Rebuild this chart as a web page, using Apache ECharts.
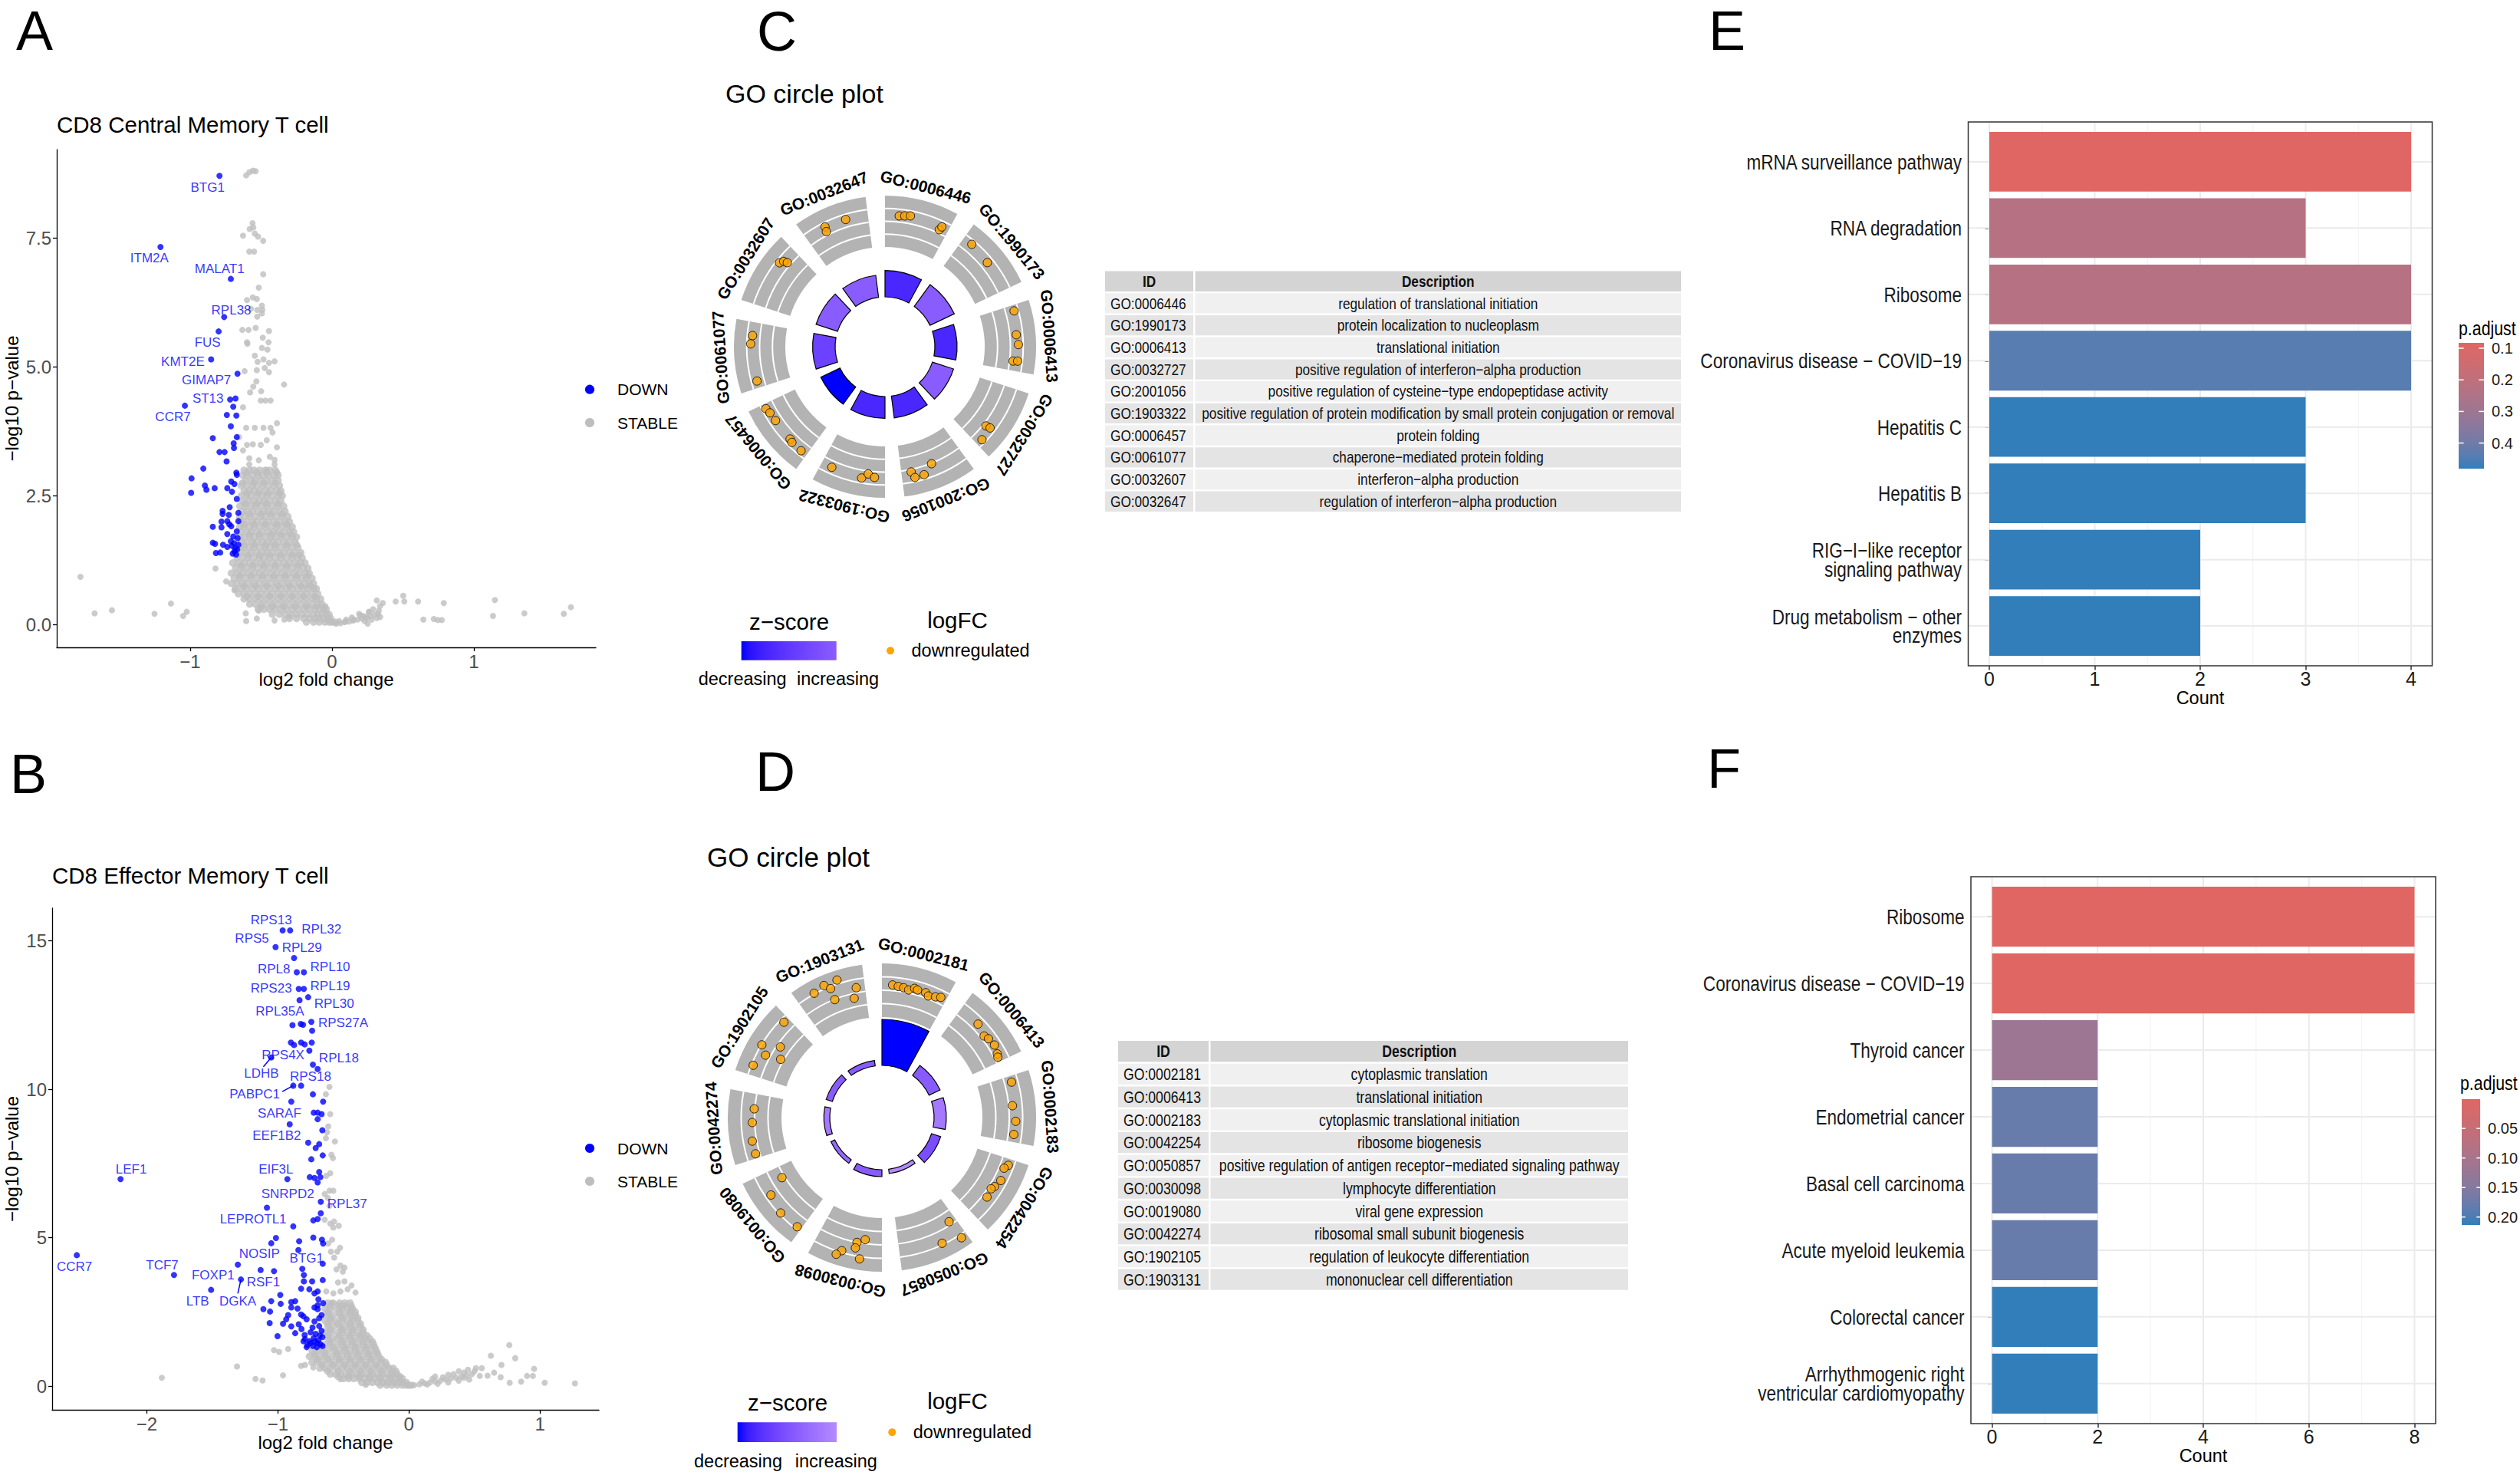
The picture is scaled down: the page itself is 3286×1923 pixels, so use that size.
<!DOCTYPE html>
<html><head><meta charset="utf-8">
<script src="https://cdn.jsdelivr.net/npm/echarts@6/dist/echarts.min.js"></script>
<style>html,body{margin:0;padding:0;background:#fff;}#c{width:3286px;height:1923px;}</style>
</head><body><div id="c"></div>
<script>
// ---------------- DATA ----------------
// Panel A volcano (CD8 Central Memory T cell)
const aDown = [[-0.793,8.71],[-1.209,7.33],[-0.713,6.71],[-0.760,5.97],[-0.799,5.69],[-0.852,5.15],[-0.666,4.87],[-0.718,4.37],[-0.680,4.39],[-1.037,4.25],[-0.696,4.23],[-0.741,4.07],[-0.674,4.06],[-0.713,3.85],[-0.840,3.62],[-0.671,3.64],[-0.693,3.52],[-0.691,3.43],[-0.793,3.35],[-0.757,3.35],[-0.743,3.17],[-0.907,3.03],[-0.674,2.95],[-0.671,2.91],[-0.990,2.84],[-0.710,2.78],[-0.688,2.73],[-0.896,2.70],[-0.885,2.62],[-0.827,2.65],[-0.738,2.65],[-0.705,2.58],[-0.993,2.56],[-0.671,2.44],[-0.721,2.28],[-0.771,2.21],[-0.771,2.15],[-0.660,2.17],[-0.727,2.13],[-0.660,2.01],[-0.779,2.0],[-0.738,2.01],[-0.724,1.95],[-0.840,1.90],[-0.779,1.89],[-0.710,1.91],[-0.671,1.81],[-0.738,1.76],[-0.696,1.71],[-0.713,1.62],[-0.840,1.59],[-0.824,1.57],[-0.768,1.55],[-0.738,1.51],[-0.705,1.53],[-0.682,1.48],[-0.818,1.39],[-0.788,1.40],[-0.688,1.42],[-0.668,1.46],[-0.700,1.38],[-0.675,1.36],[-0.660,1.55],[-0.690,1.58],[-0.665,1.68]];
const aStableScatter = [[-0.605,8.72],[-0.582,8.78],[-0.558,8.81],[-0.538,8.80],[-0.560,7.79],[-0.555,7.71],[-0.580,7.68],[-0.627,7.55],[-0.544,7.59],[-0.521,7.53],[-0.485,7.45],[-0.583,7.24],[-0.549,7.24],[-0.485,6.80],[-0.516,6.54],[-0.599,6.30],[-0.558,6.35],[-0.530,6.32],[-0.494,6.19],[-0.527,6.11],[-0.491,6.11],[-0.571,6.13],[-0.527,5.98],[-0.494,6.04],[-0.632,5.72],[-0.588,5.72],[-0.538,5.76],[-0.444,5.70],[-0.599,5.48],[-0.596,5.45],[-0.488,5.57],[-0.447,5.48],[-0.494,5.37],[-0.455,5.34],[-0.544,5.22],[-0.444,5.08],[-0.405,5.11],[-0.524,5.10],[-0.483,5.15],[-0.616,4.92],[-0.530,4.94],[-0.474,4.98],[-0.444,4.90],[-0.533,4.72],[-0.338,4.66],[-0.555,4.62],[-0.577,4.51],[-0.499,4.53],[-0.502,4.35],[-0.469,4.35],[-0.433,4.35],[-0.627,4.22],[-0.605,3.82],[-0.544,3.82],[-0.483,3.82],[-0.433,3.82],[-0.388,3.91],[-0.419,3.73],[-0.655,3.64],[-0.460,3.58],[-0.502,3.49],[-0.558,3.50],[-0.599,3.49],[-0.388,3.44],[-0.627,3.38],[-0.583,3.23],[-0.516,3.19],[-0.438,3.26],[-0.405,3.20],[-0.583,3.11],[-0.460,3.00],[-0.405,3.11],
[-1.773,0.93],[-1.673,0.22],[-1.551,0.28],[-1.251,0.21],[-1.135,0.41],[-1.049,0.17],[-1.024,0.25],[-0.821,1.09],[-0.746,0.84],[-0.688,0.67],[-0.605,0.07],[-0.608,0.22],[-0.530,0.12],[-0.516,0.27],[-0.405,0.08],[-0.336,0.10],[-0.300,0.16],
[0.316,0.47],[0.338,0.36],[0.358,0.42],[0.449,0.45],[0.502,0.56],[0.510,0.45],[0.607,0.45],[0.644,0.10],[0.718,0.11],[0.746,0.09],[0.774,0.09],[0.788,0.42],[1.135,0.17],[1.148,0.48],[1.356,0.22],[1.634,0.21],[1.684,0.34],[0.316,0.13],[0.252,0.02],[0.325,0.21],[0.261,0.25],[0.219,0.17],[0.150,0.10],[0.094,0.06],[0.247,0.13],[0.191,0.21],
[0.03,0.02],[0.06,0.03],[0.09,0.05],[0.12,0.06],[0.15,0.08],[0.18,0.10],[0.21,0.12],[0.24,0.15],[0.27,0.17],[0.30,0.20],[0.05,0.07],[0.10,0.10],[0.14,0.14],[0.20,0.18],[0.26,0.24],[0.33,0.27],[0.29,0.30],[0.23,0.07],[0.28,0.10],[0.34,0.15]];
// dense cloud of stable genes, read row by row: [-log10 p, [log2FC ...]]
const aStableRows = [
[3.0,[-0.62,-0.58,-0.55,-0.51,-0.47,-0.44,-0.40]],
[2.95,[-0.60,-0.53,-0.46,-0.39]],
[2.9,[-0.63,-0.60,-0.56,-0.52,-0.49,-0.45,-0.41,-0.38]],
[2.8,[-0.61,-0.57,-0.54,-0.50,-0.46,-0.42,-0.38]],
[2.75,[-0.63,-0.55,-0.48,-0.40]],
[2.7,[-0.64,-0.60,-0.56,-0.53,-0.49,-0.45,-0.41,-0.37]],
[2.6,[-0.62,-0.58,-0.55,-0.51,-0.47,-0.43,-0.39,-0.36]],
[2.55,[-0.60,-0.52,-0.45,-0.37]],
[2.5,[-0.64,-0.60,-0.57,-0.53,-0.49,-0.46,-0.42,-0.38,-0.35]],
[2.4,[-0.63,-0.59,-0.55,-0.51,-0.48,-0.44,-0.40,-0.36]],
[2.35,[-0.61,-0.53,-0.46,-0.38]],
[2.3,[-0.65,-0.61,-0.57,-0.54,-0.50,-0.46,-0.42,-0.38,-0.34]],
[2.2,[-0.63,-0.60,-0.56,-0.52,-0.48,-0.45,-0.41,-0.37,-0.33]],
[2.15,[-0.58,-0.50,-0.43,-0.35]],
[2.1,[-0.65,-0.62,-0.58,-0.54,-0.50,-0.47,-0.43,-0.39,-0.35,-0.31]],
[2.0,[-0.64,-0.60,-0.56,-0.53,-0.49,-0.45,-0.41,-0.37,-0.33,-0.30]],
[1.95,[-0.62,-0.55,-0.47,-0.39,-0.32]],
[1.9,[-0.65,-0.62,-0.58,-0.55,-0.51,-0.47,-0.43,-0.39,-0.35,-0.31,-0.28]],
[1.8,[-0.64,-0.60,-0.57,-0.53,-0.49,-0.45,-0.41,-0.38,-0.34,-0.30,-0.27]],
[1.75,[-0.58,-0.51,-0.43,-0.36,-0.29]],
[1.7,[-0.65,-0.62,-0.58,-0.55,-0.51,-0.47,-0.43,-0.40,-0.36,-0.32,-0.28,-0.25]],
[1.6,[-0.64,-0.60,-0.56,-0.53,-0.49,-0.45,-0.42,-0.38,-0.34,-0.30,-0.26]],
[1.55,[-0.62,-0.55,-0.47,-0.40,-0.32,-0.25]],
[1.5,[-0.65,-0.62,-0.58,-0.55,-0.51,-0.47,-0.44,-0.40,-0.36,-0.32,-0.28,-0.24]],
[1.4,[-0.65,-0.61,-0.57,-0.53,-0.49,-0.46,-0.42,-0.38,-0.34,-0.30,-0.26,-0.22]],
[1.35,[-0.59,-0.51,-0.44,-0.36,-0.28,-0.23]],
[1.3,[-0.67,-0.63,-0.59,-0.55,-0.51,-0.48,-0.44,-0.40,-0.36,-0.32,-0.28,-0.24,-0.21]],
[1.2,[-0.70,-0.66,-0.62,-0.58,-0.54,-0.50,-0.46,-0.42,-0.38,-0.34,-0.30,-0.26,-0.22,-0.19]],
[1.15,[-0.64,-0.56,-0.48,-0.40,-0.32,-0.24]],
[1.1,[-0.68,-0.64,-0.60,-0.56,-0.52,-0.48,-0.44,-0.40,-0.36,-0.32,-0.28,-0.24,-0.20,-0.17]],
[1.0,[-0.71,-0.67,-0.63,-0.59,-0.55,-0.51,-0.47,-0.43,-0.39,-0.35,-0.31,-0.27,-0.23,-0.19,-0.16]],
[0.95,[-0.65,-0.57,-0.49,-0.41,-0.33,-0.25,-0.17]],
[0.9,[-0.69,-0.65,-0.61,-0.57,-0.53,-0.49,-0.45,-0.41,-0.37,-0.33,-0.29,-0.25,-0.21,-0.18,-0.14]],
[0.8,[-0.71,-0.67,-0.63,-0.59,-0.55,-0.51,-0.47,-0.43,-0.39,-0.35,-0.31,-0.27,-0.23,-0.19,-0.16,-0.13]],
[0.75,[-0.62,-0.54,-0.46,-0.38,-0.30,-0.22,-0.15]],
[0.7,[-0.68,-0.64,-0.60,-0.56,-0.52,-0.48,-0.44,-0.40,-0.36,-0.32,-0.28,-0.24,-0.20,-0.17,-0.13,-0.11]],
[0.6,[-0.66,-0.62,-0.58,-0.54,-0.50,-0.46,-0.42,-0.38,-0.34,-0.30,-0.26,-0.22,-0.18,-0.14,-0.10]],
[0.55,[-0.60,-0.52,-0.44,-0.36,-0.28,-0.20,-0.12]],
[0.5,[-0.62,-0.58,-0.54,-0.50,-0.46,-0.42,-0.38,-0.34,-0.30,-0.26,-0.22,-0.18,-0.14,-0.11,-0.08]],
[0.4,[-0.58,-0.54,-0.50,-0.46,-0.42,-0.38,-0.34,-0.30,-0.26,-0.22,-0.18,-0.14,-0.10,-0.07]],
[0.35,[-0.50,-0.42,-0.34,-0.26,-0.18,-0.11,-0.05]],
[0.3,[-0.52,-0.48,-0.44,-0.40,-0.36,-0.32,-0.28,-0.24,-0.20,-0.16,-0.12,-0.09,-0.06,-0.04]],
[0.2,[-0.42,-0.37,-0.33,-0.29,-0.25,-0.21,-0.17,-0.13,-0.10,-0.07,-0.04,-0.02]],
[0.12,[-0.30,-0.25,-0.20,-0.16,-0.12,-0.09,-0.06,-0.03,-0.01]],
[0.05,[-0.18,-0.13,-0.09,-0.05,-0.02,0.0,0.02]]];
const aLabels = [['BTG1',-0.877,8.49],['ITM2A',-1.287,7.11],['MALAT1',-0.793,6.90],['RPL38',-0.710,6.10],['FUS',-0.877,5.47],['KMT2E',-1.051,5.11],['GIMAP7',-0.885,4.75],['ST13',-0.874,4.39],['CCR7',-1.121,4.04]];
const aXTicks = [-1,0,1];
const aYTicks = [0,2.5,5,7.5];

// Panel B volcano (CD8 Effector Memory T cell)
const bDown = [[-0.964,15.35],[-0.907,15.35],[-1.018,14.79],[-0.877,14.42],[-0.856,13.94],[-0.802,13.94],[-0.841,13.38],[-0.802,13.38],[-0.769,13.10],[-0.835,13.00],[-0.745,12.27],[-0.889,12.16],[-0.826,12.20],[-0.808,12.17],[-0.739,11.97],[-0.901,11.57],[-0.877,11.49],[-0.823,11.57],[-0.796,11.51],[-0.742,11.57],[-0.760,11.30],[-1.051,11.07],[-0.733,10.83],[-0.697,10.68],[-0.823,10.12],[-0.883,10.12],[-0.733,9.83],[-0.898,9.58],[-0.655,9.58],[-0.727,9.21],[-0.697,9.21],[-0.667,9.16],[-0.697,8.99],[-0.910,8.82],[-0.661,8.62],[-0.769,8.20],[-0.685,8.15],[-0.712,8.02],[-0.658,7.77],[-0.745,7.64],[-0.685,7.21],[-0.928,6.97],[-0.757,7.04],[-0.721,7.01],[-0.676,7.04],[-0.697,6.86],[-2.201,6.97],[-0.673,6.21],[-1.084,6.01],[-0.673,5.82],[-0.730,5.58],[-0.697,5.63],[-0.883,5.38],[-1.015,4.99],[-1.051,4.81],[-0.730,5.00],[-0.664,4.93],[-0.655,4.80],[-0.838,4.88],[-0.844,4.58],[-2.535,4.41],[-1.306,4.09],[-0.658,4.12],[-0.814,3.95],[-1.132,3.91],[-1.030,3.87],[-1.793,3.74],[-0.802,3.74],[-1.282,3.59],[-0.802,3.53],[-0.739,3.53],[-0.658,3.57],[-0.823,3.28],[-0.760,3.26],[-1.510,3.24],[-0.697,3.19],[-0.721,3.12],[-0.982,3.07],[-0.898,2.83],[-0.868,2.86],[-1.051,2.86],[-0.979,2.77],[-0.691,2.92],[-0.697,2.72],[-0.655,2.79],[-1.111,2.59],[-1.060,2.51],[-0.898,2.65],[-0.850,2.61],[-0.721,2.65],[-0.697,2.59],[-0.823,2.41],[-0.805,2.35],[-0.667,2.39],[-0.922,2.39],[-0.937,2.25],[-0.961,2.10],[-1.063,2.12],[-0.898,2.01],[-0.841,2.08],[-0.781,2.25],[-0.721,2.18],[-0.685,2.29],[-0.868,1.78],[-0.820,1.92],[-0.736,1.97],[-0.685,2.02],[-1.003,1.68],[-0.796,1.72],[-0.751,1.81],[-0.712,1.76],[-0.667,1.86],[-0.793,1.58],[-0.760,1.51],[-0.727,1.62],[-0.691,1.54],[-0.661,1.65],[-0.775,1.38],[-0.733,1.35],[-0.703,1.31],[-0.676,1.41],[-0.751,1.45],[-0.805,1.51],[-0.781,1.31],[-0.700,1.45],[-0.660,1.35],[-0.720,1.50],[-0.680,1.70]];
const bStableScatter = [[-0.607,10.08],[-0.634,9.83],[-0.601,9.16],[-0.616,8.75],[-0.625,8.55],[-0.634,8.35],[-0.565,8.24],[-0.592,7.79],[-0.580,7.68],[-0.601,7.17],[-0.631,7.08],[-0.607,6.58],[-0.577,6.58],[-0.643,6.47],[-0.619,6.34],[-0.607,6.07],[-0.643,5.60],[-0.601,5.47],[-0.571,5.54],[-0.535,5.40],[-0.577,5.34],[-0.586,4.93],[-0.616,4.80],[-0.595,4.53],[-0.547,4.53],[-0.571,4.33],[-0.526,4.66],[-0.553,3.93],[-0.492,3.99],[-0.505,3.86],[-0.523,4.06],[-0.541,3.49],[-0.492,3.53],[-0.438,3.39],[-0.408,3.15],[-0.468,3.26],[-0.631,3.19],[-0.577,3.12],[-0.523,3.19],[-0.586,2.79],[-0.541,2.72],[-0.492,2.72],[-0.447,2.59],[-1.030,1.21],[-0.991,1.15],[-0.922,1.25],[-1.312,0.66],[-1.886,0.28],[-1.171,0.24],[-1.117,0.19],[-0.961,0.36],[-0.823,0.68],[-0.793,0.71],[-0.730,0.63],[-0.523,0.23],[-0.330,0.04],
[0.766,1.38],[0.811,0.94],[0.706,0.71],[0.625,1.02],[0.556,0.60],[0.511,0.60],[0.541,0.34],[0.769,0.11],[0.856,0.15],[0.901,0.34],[0.946,0.34],[0.955,0.58],[1.036,0.11],[1.267,0.09],[0.60,0.35],[0.65,0.45],[0.70,0.30],
[0.04,0.03],[0.08,0.06],[0.12,0.09],[0.16,0.12],[0.20,0.15],[0.24,0.18],[0.28,0.22],[0.32,0.25],[0.36,0.28],[0.40,0.32],[0.44,0.36],[0.48,0.40],[0.10,0.15],[0.18,0.25],[0.26,0.30],[0.34,0.40],[0.42,0.45],[0.50,0.50],[0.14,0.05],[0.22,0.08],[0.30,0.12],[0.38,0.18],[0.46,0.22],[0.20,0.32],[0.30,0.38],[0.38,0.50],[0.45,0.55],[0.42,0.28]];
const bStableRows = [
[2.8,[-0.62,-0.58,-0.53,-0.49,-0.45]],
[2.7,[-0.60,-0.51,-0.44]],
[2.6,[-0.64,-0.60,-0.55,-0.51,-0.47,-0.43]],
[2.5,[-0.62,-0.53,-0.45,-0.41]],
[2.4,[-0.62,-0.58,-0.53,-0.49,-0.45,-0.41]],
[2.3,[-0.60,-0.51,-0.43,-0.39]],
[2.2,[-0.64,-0.60,-0.56,-0.51,-0.47,-0.43,-0.39]],
[2.1,[-0.62,-0.54,-0.45,-0.37]],
[2.0,[-0.62,-0.58,-0.53,-0.49,-0.45,-0.41,-0.37]],
[1.9,[-0.60,-0.51,-0.43,-0.35]],
[1.8,[-0.64,-0.60,-0.55,-0.51,-0.47,-0.43,-0.39,-0.35]],
[1.7,[-0.62,-0.53,-0.45,-0.37,-0.32]],
[1.6,[-0.62,-0.58,-0.54,-0.49,-0.45,-0.41,-0.37,-0.33,-0.30]],
[1.5,[-0.60,-0.51,-0.43,-0.35,-0.28]],
[1.4,[-0.64,-0.60,-0.55,-0.51,-0.47,-0.43,-0.39,-0.35,-0.31,-0.27]],
[1.3,[-0.66,-0.58,-0.49,-0.41,-0.33,-0.26]],
[1.2,[-0.74,-0.70,-0.66,-0.62,-0.57,-0.53,-0.49,-0.45,-0.41,-0.37,-0.33,-0.29,-0.25]],
[1.1,[-0.72,-0.64,-0.55,-0.47,-0.39,-0.31,-0.24]],
[1.0,[-0.76,-0.72,-0.68,-0.64,-0.59,-0.55,-0.51,-0.47,-0.43,-0.39,-0.35,-0.31,-0.27,-0.23]],
[0.9,[-0.70,-0.62,-0.53,-0.45,-0.37,-0.29,-0.21]],
[0.8,[-0.74,-0.70,-0.66,-0.61,-0.57,-0.53,-0.49,-0.45,-0.41,-0.37,-0.33,-0.29,-0.25,-0.21,-0.18]],
[0.7,[-0.66,-0.58,-0.49,-0.41,-0.33,-0.25,-0.17]],
[0.6,[-0.68,-0.64,-0.60,-0.55,-0.51,-0.47,-0.43,-0.39,-0.35,-0.31,-0.27,-0.23,-0.19,-0.15,-0.12]],
[0.5,[-0.62,-0.54,-0.45,-0.37,-0.29,-0.21,-0.13,-0.10]],
[0.4,[-0.60,-0.56,-0.52,-0.48,-0.44,-0.40,-0.36,-0.32,-0.28,-0.24,-0.20,-0.16,-0.12,-0.09]],
[0.32,[-0.54,-0.46,-0.38,-0.30,-0.22,-0.14,-0.07]],
[0.25,[-0.50,-0.46,-0.42,-0.38,-0.34,-0.30,-0.26,-0.22,-0.18,-0.14,-0.10,-0.07,-0.05]],
[0.12,[-0.36,-0.32,-0.28,-0.24,-0.20,-0.16,-0.12,-0.08,-0.05,-0.02]],
[0.03,[-0.22,-0.17,-0.13,-0.09,-0.05,-0.02,0.0,0.02]]];
const bLabels = [['RPS13',-1.051,15.70],['RPL32',-0.667,15.38],['RPS5',-1.198,15.08],['RPL29',-0.817,14.76],['RPL8',-1.030,14.05],['RPL10',-0.601,14.13],['RPS23',-1.051,13.40],['RPL19',-0.601,13.49],['RPL30',-0.571,12.87],['RPL35A',-0.985,12.63],['RPS27A',-0.502,12.24],['RPS4X',-0.961,11.14],['RPL18',-0.535,11.06],['LDHB',-1.126,10.52],['RPS18',-0.751,10.42],['PABPC1',-1.177,9.83],['SARAF',-0.988,9.20],['EEF1B2',-1.009,8.43],['EIF3L',-1.015,7.31],['LEF1',-2.120,7.31],['SNRPD2',-0.925,6.47],['RPL37',-0.471,6.15],['LEPROTL1',-1.189,5.62],['NOSIP',-1.141,4.45],['BTG1',-0.781,4.30],['CCR7',-2.553,4.03],['TCF7',-1.883,4.06],['FOXP1',-1.495,3.73],['RSF1',-1.111,3.50],['LTB',-1.613,2.86],['DGKA',-1.306,2.86]];
const bLeaders = [[[-1.111,10.76],[-1.051,11.07]],[[-0.967,9.92],[-0.883,10.12]],[[-1.306,3.12],[-1.282,3.59]]];
const bXTicks = [-2,-1,0,1];
const bYTicks = [0,5,10,15];

// Panel C GO circle
const goC = ['GO:0006446','GO:1990173','GO:0006413','GO:0032727','GO:2001056','GO:1903322','GO:0006457','GO:0061077','GO:0032607','GO:0032647'];
const descC = ['regulation of translational initiation','protein localization to nucleoplasm','translational initiation','positive regulation of interferon\u2212alpha production','positive regulation of cysteine\u2212type endopeptidase activity','positive regulation of protein modification by small protein conjugation or removal','protein folding','chaperone\u2212mediated protein folding','interferon\u2212alpha production','regulation of interferon\u2212alpha production'];
const zC = [-2.24,-1.73,-2.24,-1.73,-2.24,-2.24,-2.45,-2.0,-1.73,-1.73];
const barC = [99.4,100,94,94,93.7,93.3,92.7,94.4,94.5,93.8];   // inner bar outer radius
const dotsC = [
[[171.5,6.2],[172.4,8.6],[173.7,11.0],[168.1,24.9],[172.9,25.4]],
[[175,40.3],[172.7,50.6]],
[[174.7,74.5],[171.9,84.8],[174,89.1],[168,96.4],[174,96.2]],
[[167.4,128.1],[173.2,127.7],[175.2,133.8]],
[[164.2,158.3],[166.8,168.2],[174.9,167.1],[174.5,163.0]],
[[171.8,203.8],[173.9,190.1],[167.3,187.5],[171,184.6]],
[[175.1,242.5],[173,240.1],[172.2,236.0],[172.6,225.8],[174.1,224.2],[174.3,218.9]],
[[173.3,274.8],[175.2,271.2],[172.8,255.0]],
[[175.7,308.5],[172.7,310.1],[168,310.7]],
[[174.7,333.4],[168.4,333.0],[173.6,342.8]]];

// Panel D GO circle
const goD = ['GO:0002181','GO:0006413','GO:0002183','GO:0042254','GO:0050857','GO:0030098','GO:0019080','GO:0042274','GO:1902105','GO:1903131'];
const descD = ['cytoplasmic translation','translational initiation','cytoplasmic translational initiation','ribosome biogenesis','positive regulation of antigen receptor\u2212mediated signaling pathway','lymphocyte differentiation','viral gene expression','ribosomal small subunit biogenesis','regulation of leukocyte differentiation','mononuclear cell differentiation'];
const zD = [-3.46,-2.45,-2.0,-2.65,-1.73,-2.45,-2.24,-2.0,-2.45,-2.45];
const barD = [128,84,84,80.6,73.6,77,73.7,75.7,76.5,75];
const dotsD = [
[[173.4,4.6],[172.3,7.1],[171.6,9.5],[170,11.8],[173.8,14.2],[172.7,15.6],[172.5,19.3],[169.7,20.9],[172.1,23.9],[174.5,26.1]],
[[174.8,45.8],[170.5,51.4],[172.8,53.5],[174.6,57.2],[171.8,61.1],[170.4,62.5]],
[[175.2,74.7],[170.9,84.8],[174.5,91.6],[173.4,97.3]],
[[176.1,110.7],[172.4,112.5],[175.4,117.9],[172.2,121.5],[170,123.1],[171.8,127.1]],
[[161.6,147.2],[187.9,146.5],[181.7,154.4]],
[[160.7,187.8],[166,191.3],[173.4,191.5],[181.3,196.8],[187.9,198.5],[186.6,189.0]],
[[152.1,239.0],[176.5,235.1],[181.4,226.7],[180.2,217.8]],
[[166.9,273.9],[169.2,267.8],[171.8,259.7],[171.4,254.0]],
[[178.3,314.2],[183,301.2],[161.3,304.8],[172.2,298.2],[152.3,299.9],[181.2,292.1]],
[[184.6,331.4],[188,336.3],[181,338.3],[188.6,341.9],[165.6,338.2],[172.5,348.8],[159.7,346.9]]];

// Panel E KEGG bar
const catsE = ['mRNA surveillance pathway','RNA degradation','Ribosome','Coronavirus disease \u2212 COVID\u221219','Hepatitis C','Hepatitis B','RIG\u2212I\u2212like receptor\nsignaling pathway','Drug metabolism \u2212 other\nenzymes'];
const countE = [4,3,4,4,3,3,2,2];
const padjE = [0.083,0.226,0.226,0.44,0.481,0.481,0.481,0.481];
const eXTicks = [0,1,2,3,4];
const eCbTicks = [0.1,0.2,0.3,0.4];

// Panel F KEGG bar
const catsF = ['Ribosome','Coronavirus disease \u2212 COVID\u221219','Thyroid cancer','Endometrial cancer','Basal cell carcinoma','Acute myeloid leukemia','Colorectal cancer','Arrhythmogenic right\nventricular cardiomyopathy'];
const countF = [8,8,2,2,2,2,2,2];
const padjF = [0.0004,0.0004,0.118,0.178,0.178,0.178,0.2134,0.2134];
const fXTicks = [0,2,4,6,8];
const fCbTicks = [0.05,0.10,0.15,0.20];

// ---------------- HELPERS ----------------
const FONT = "'Liberation Sans', Arial, Helvetica, sans-serif";
const NARROW_SX = 0.82;   // horizontal condensing to imitate Arial Narrow
const minus = s => String(s).replace('-', '\u2212');
function hex2rgb(h){h=h.replace('#','');return [0,2,4].map(i=>parseInt(h.substr(i,2),16));}
function s2l(c){c/=255;return c<=0.04045?c/12.92:Math.pow((c+0.055)/1.055,2.4);}
function l2s(c){c=c<=0.0031308?12.92*c:1.055*Math.pow(c,1/2.4)-0.055;return Math.max(0,Math.min(255,Math.round(c*255)));}
function rgb2lab(rgb){const [r,g,b]=rgb.map(s2l);
  const X=(r*0.4124+g*0.3576+b*0.1805)/0.95047, Y=r*0.2126+g*0.7152+b*0.0722, Z=(r*0.0193+g*0.1192+b*0.9505)/1.08883;
  const f=t=>t>0.008856?Math.cbrt(t):7.787*t+16/116; const fx=f(X),fy=f(Y),fz=f(Z);
  return [116*fy-16,500*(fx-fy),200*(fy-fz)];}
function lab2rgb(L,a,b){const fy=(L+16)/116,fx=fy+a/500,fz=fy-b/200;const fi=t=>t>0.206893?t*t*t:(t-16/116)/7.787;
  const X=fi(fx)*0.95047,Y=fi(fy),Z=fi(fz)*1.08883;
  const r=3.2406*X-1.5372*Y-0.4986*Z,g=-0.9689*X+1.8758*Y+0.0415*Z,bb=0.0557*X-0.2040*Y+1.0570*Z;
  return 'rgb('+[r,g,bb].map(l2s).join(',')+')';}
function mixLab(c1,c2,t){const A=rgb2lab(hex2rgb(c1)),B=rgb2lab(hex2rgb(c2));return lab2rgb(A[0]+(B[0]-A[0])*t,A[1]+(B[1]-A[1])*t,A[2]+(B[2]-A[2])*t);}
const zColor = (z, zs) => { const m = Math.max(...zs.map(Math.abs)); return mixLab('#0000ff','#ffffff',1-Math.abs(z)/m); };
const pColor = (p, ps) => { const lo=Math.min(...ps), hi=Math.max(...ps); return mixLab('#e06663','#327eba',(p-lo)/(hi-lo)); };
const rowsToPts = rows => rows.flatMap(([y,xs])=>xs.map(x=>[x,y]));

// ---------------- LAYOUT ----------------
const SPAN = 28.6;
const circ = [
  {pi:0, ids:goC, z:zC, bar:barC, dots:dotsC, r0:65, g0:130, g1:197, lines:[146.75,163.5,180.25], lab:215},
  {pi:1, ids:goD, z:zD, bar:barD, dots:dotsD, r0:68, g0:131, g1:201, lines:[148.5,166,183.5], lab:220}];

function volcAxes(gi, range, xt, yr, yt, yfmt, gapY, gapX){
  const lab = {color:'#4D4D4D', fontSize:24, fontFamily:FONT};
  const tick = {show:true, length:5, lineStyle:{color:'#000', width:1.3}};
  const line = {show:true, onZero:false, lineStyle:{color:'#000', width:1.3}};
  return [{type:'value', gridIndex:gi, min:range[0], max:range[1], axisLine:line,
      axisTick:Object.assign({customValues:xt}, tick),
      axisLabel:Object.assign({customValues:xt, formatter:v=>minus(v), margin:6}, lab),
      splitLine:{show:false}, name:'log2 fold change', nameLocation:'middle', nameGap:gapX, nameMoveOverlap:false,
      nameTextStyle:{fontSize:24, color:'#000', fontFamily:FONT}},
    {type:'value', gridIndex:gi, min:yr[0], max:yr[1], axisLine:line,
      axisTick:Object.assign({customValues:yt}, tick),
      axisLabel:Object.assign({customValues:yt, formatter:yfmt, margin:7}, lab),
      splitLine:{show:false}, name:'\u2212log10 p\u2212value', nameLocation:'middle', nameGap:gapY, nameMoveOverlap:false,
      nameTextStyle:{fontSize:24, color:'#000', fontFamily:FONT}}];
}
const vA = volcAxes(0,[-1.94,1.86],aXTicks,[-0.44,9.22],aYTicks,v=>v.toFixed(1),47,29);
const vB = volcAxes(1,[-2.723,1.45],bXTicks,[-0.80,16.1],bYTicks,v=>String(v),41,30);

function barAxes(gi, cats, xr, xt, pad){
  return [{type:'value', gridIndex:gi, min:xr[0], max:xr[1], offset:pad,
      axisLine:{show:false}, axisTick:{show:true, customValues:xt, length:5.5, lineStyle:{color:'#333', width:1.5}},
      axisLabel:{customValues:xt, color:'#1a1a1a', fontSize:25, fontFamily:FONT, margin:5},
      splitLine:{show:false}, name:'Count', nameLocation:'middle', nameGap:30, nameMoveOverlap:false,
      nameTextStyle:{fontSize:23.5, color:'#000', fontFamily:FONT}},
    {type:'category', gridIndex:gi, data:cats, inverse:true, axisLine:{show:false},
      axisTick:{show:true, alignWithLabel:true, length:5.5, lineStyle:{color:'#333', width:1.5}},
      axisLabel:{show:false}, splitLine:{show:false}}];
}
const padE = 86.46*0.1, padF = 86.95*0.1;
const bE = barAxes(2, catsE, [-0.2,4.2], eXTicks, padE);
const bF = barAxes(3, catsF, [-0.4,8.4], fXTicks, padF);

function cbAxes(gi, ps, ticks, fmt){
  return [{type:'value', gridIndex:gi, min:0, max:1, show:false},
    {type:'value', gridIndex:gi, min:Math.min(...ps), max:Math.max(...ps), inverse:true, position:'right',
      axisLine:{show:false}, axisTick:{show:false}, splitLine:{show:false},
      axisLabel:{customValues:ticks, formatter:fmt, color:'#1a1a1a', fontSize:20, fontFamily:FONT, margin:10}}];
}
const cE = cbAxes(4, padjE, eCbTicks, v=>v.toFixed(1));
const cF = cbAxes(5, padjF, fCbTicks, v=>v.toFixed(2));

// ---------------- SERIES ----------------
const series = [];
function volcSeries(gi, scatterPts, cloudPts, down, labels, leaders){
  series.push({type:'scatter', name:'STABLE', xAxisIndex:gi, yAxisIndex:gi, data:cloudPts, symbolSize:9.5, itemStyle:{color:'#BEBEBE'}, silent:true, z:2});
  series.push({type:'scatter', name:'STABLE', xAxisIndex:gi, yAxisIndex:gi, data:scatterPts, symbolSize:8, itemStyle:{color:'#BEBEBE'}, silent:true, z:2});
  series.push({type:'scatter', name:'DOWN', xAxisIndex:gi, yAxisIndex:gi, data:down, symbolSize:8, itemStyle:{color:'#0000FF'}, silent:true, z:3});
  if (leaders) series.push({type:'lines', coordinateSystem:'cartesian2d', xAxisIndex:gi, yAxisIndex:gi, data:leaders.map(c=>({coords:c})), lineStyle:{color:'#0000FF', width:1.5, opacity:1}, symbol:'none', silent:true, z:4});
  series.push({type:'scatter', name:'genes', xAxisIndex:gi, yAxisIndex:gi, data:labels.map(l=>({name:l[0], value:[l[1],l[2]]})), symbolSize:1,
    itemStyle:{color:'rgba(0,0,0,0)'}, silent:true, z:5,
    label:{show:true, position:'inside', formatter:'{b}', color:'#0000FF', fontSize:17, fontFamily:FONT}});
}
volcSeries(0, aStableScatter, rowsToPts(aStableRows), aDown, aLabels, null);
volcSeries(1, bStableScatter, rowsToPts(bStableRows), bDown, bLabels, bLeaders);

const rad = (t) => (t-90)*Math.PI/180;
circ.forEach(c=>{
  const pr = (api, v) => { const o=api.coord([0,0]); const p=api.coord([v,0]); return [o[0],o[1],Math.hypot(p[0]-o[0],p[1]-o[1])]; };
  series.push({type:'custom', coordinateSystem:'polar', polarIndex:c.pi, silent:true, z:1,
    data:c.ids.map((id,i)=>[c.g1, 36*i+SPAN/2, i]),
    renderItem:(params, api)=>{
      const i=api.value(2); const [cx,cy,R1]=pr(api,c.g1); const R0=pr(api,c.g0)[2];
      const a0=rad(36*i), a1=rad(36*i+SPAN);
      const ch=[{type:'sector', shape:{cx,cy,r0:R0,r:R1,startAngle:a0,endAngle:a1,clockwise:true}, style:{fill:'#B3B3B3'}}];
      c.lines.forEach(l=>ch.push({type:'arc', shape:{cx,cy,r:pr(api,l)[2],startAngle:a0,endAngle:a1,clockwise:true}, style:{stroke:'#fff', lineWidth:2, fill:null}}));
      return {type:'group', children:ch};
    }});
  series.push({type:'custom', coordinateSystem:'polar', polarIndex:c.pi, silent:true, z:2,
    data:c.bar.map((b,i)=>[b, 36*i+SPAN/2, i]),
    renderItem:(params, api)=>{
      const i=api.value(2); const [cx,cy,R1]=pr(api,api.value(0)); const R0=pr(api,c.r0)[2];
      return {type:'sector', shape:{cx,cy,r0:R0,r:R1,startAngle:rad(36*i),endAngle:rad(36*i+SPAN),clockwise:true},
        style:{fill:zColor(c.z[i], c.z), stroke:'#000', lineWidth:1.2}};
    }});
  series.push({type:'scatter', coordinateSystem:'polar', polarIndex:c.pi, silent:true, z:3, symbolSize:11,
    data:c.dots.flat(), itemStyle:{color:'#FFA500', borderColor:'#000', borderWidth:1}});
  series.push({type:'custom', coordinateSystem:'polar', polarIndex:c.pi, silent:true, z:4,
    data:c.ids.map((id,i)=>[c.lab, 36*i+SPAN/2, i]),
    renderItem:(params, api)=>{
      const i=api.value(2); const p=api.coord([api.value(0), api.value(1)]);
      return {type:'text', x:p[0], y:p[1], rotation:-api.value(1)*Math.PI/180,
        style:{text:c.ids[i], fill:'#000', fontSize:21, fontWeight:'bold', fontFamily:FONT, align:'center', verticalAlign:'middle'}};
    }});
});

function barSeries(gi, cats, counts, ps, nCat, major, minor){
  const frameRender = (kindFn) => (params, api) => {
    const cs=params.coordSys; const pad=cs.height/nCat*0.1; const top=cs.y-pad, bot=cs.y+cs.height+pad;
    return kindFn(cs, top, bot, api);
  };
  const gridData = major.map(v=>[v,0,0]).concat(minor.map(v=>[v,0,1])).concat(counts.map((c,i)=>[0,i,2]));
  series.push({type:'custom', xAxisIndex:gi, yAxisIndex:gi, silent:true, z:1, data:gridData,
    renderItem:frameRender((cs,top,bot,api)=>{
      const k=api.value(2);
      if(k<2){const x=api.coord([api.value(0),0])[0];return {type:'line',shape:{x1:x,y1:top,x2:x,y2:bot},style:{stroke:k===0?'#EBEBEB':'#F4F4F4',lineWidth:k===0?2:1.2}};}
      const y=api.coord([0,api.value(1)])[1];return {type:'line',shape:{x1:cs.x,y1:y,x2:cs.x+cs.width,y2:y},style:{stroke:'#EBEBEB',lineWidth:2}};
    })});
  series.push({type:'bar', name:'Count', xAxisIndex:gi, yAxisIndex:gi, barWidth:'90%', silent:true, z:2,
    data:counts.map((v,i)=>({value:v, itemStyle:{color:pColor(ps[i], ps)}}))});
  series.push({type:'custom', xAxisIndex:gi, yAxisIndex:gi, silent:true, z:5, data:[[0,0]],
    renderItem:frameRender((cs,top,bot)=>({type:'rect',shape:{x:cs.x,y:top,width:cs.width,height:bot-top},style:{fill:null,stroke:'#333',lineWidth:1.5}}))});
  // category labels (condensed, like the narrow font of the original)
  series.push({type:'custom', xAxisIndex:gi, yAxisIndex:gi, silent:true, z:5, data:cats.map((c,i)=>[0,i]),
    renderItem:(params, api)=>{
      const cs=params.coordSys; const y=api.coord([0,api.value(1)])[1];
      return {type:'text', x:cs.x-8.5, y, scaleX:NARROW_SX,
        style:{text:cats[api.value(1)], fill:'#1a1a1a', fontSize:27.5, lineHeight:24.5, fontFamily:FONT, align:'right', verticalAlign:'middle'}};
    }});
}
barSeries(2, catsE, countE, padjE, 8, [0,1,2,3,4], [0.5,1.5,2.5,3.5]);
barSeries(3, catsF, countF, padjF, 8, [0,2,4,6,8], [1,3,5,7]);

function cbSeries(gi, ps, ticks){
  const lo=Math.min(...ps);
  const stops=[]; for(let k=0;k<=10;k++){stops.push({offset:k/10, color:mixLab('#e06663','#327eba',k/10)});}
  series.push({type:'custom', xAxisIndex:gi, yAxisIndex:gi, silent:true, data:[[0,lo]],
    renderItem:(params, api)=>{
      const cs=params.coordSys;
      const ch=[{type:'rect', shape:{x:cs.x,y:cs.y,width:cs.width,height:cs.height}, style:{fill:new echarts.graphic.LinearGradient(0,0,0,1,stops)}}];
      ticks.forEach(v=>{const y=api.coord([0,v])[1];
        ch.push({type:'line',shape:{x1:cs.x,y1:y,x2:cs.x+cs.width*0.2,y2:y},style:{stroke:'#fff',lineWidth:1.5}});
        ch.push({type:'line',shape:{x1:cs.x+cs.width*0.8,y1:y,x2:cs.x+cs.width,y2:y},style:{stroke:'#fff',lineWidth:1.5}});});
      return {type:'group', children:ch};
    }});
}
cbSeries(4, padjE, eCbTicks);
cbSeries(5, padjF, fCbTicks);

// ---------------- GRAPHIC (titles, legends, tables) ----------------
const G = [];
const txt = (text, x, y, size, opt, sx) => G.push(Object.assign({type:'text', x, y, silent:true},
  sx ? {scaleX:sx} : {},
  {style:Object.assign({text, fill:'#000', fontSize:size, fontFamily:FONT, align:'left', verticalAlign:'middle'}, (opt||{}))}));
[['A',21,40],['B',13,1009],['C',987,41],['D',985,1006],['E',2228,40],['F',2226,1002]].forEach(l=>txt(l[0],l[1],l[2],72));
txt('CD8 Central Memory T cell', 74, 162, 29.5);
txt('CD8 Effector Memory T cell', 68, 1141, 29.5);
txt('GO circle plot', 946, 122, 34);
txt('GO circle plot', 922, 1117, 35);
[[507.7,551],[1497,1540]].forEach(([y1,y2])=>{
  G.push({type:'circle', shape:{cx:769, cy:y1, r:6.1}, style:{fill:'#0000FF'}, silent:true});
  G.push({type:'circle', shape:{cx:769, cy:y2, r:6.1}, style:{fill:'#BEBEBE'}, silent:true});
  txt('DOWN', 805, y1, 21); txt('STABLE', 805, y2, 21);
});
function goLegend(c, L){
  const zs=c.z; const zmin=Math.min(...zs), zmax=Math.max(...zs);
  const stops=[]; for(let k=0;k<=10;k++){const z=zmin+(zmax-zmin)*k/10; stops.push({offset:k/10, color:zColor(z, zs)});}
  G.push({type:'rect', shape:{x:L.bx, y:L.by, width:L.bw, height:L.bh}, style:{fill:new echarts.graphic.LinearGradient(0,0,1,0,stops)}, silent:true});
  txt('z\u2212score', L.zx, L.zy, 29.5, {align:'center'});
  txt('logFC', L.lx, L.zy-1.5, 29.5, {align:'center'});
  txt('decreasing', L.dx, L.dy, 23.5);
  txt('increasing', L.ix, L.dy, 23.5);
  G.push({type:'circle', shape:{cx:L.ox, cy:L.by+L.bh/2, r:5}, style:{fill:'#FFA500'}, silent:true});
  txt('downregulated', L.ox+27.5, L.by+L.bh/2, 23.5);
}
goLegend(circ[0], {bx:966.7, by:836, bw:124, bh:24.7, zx:1029, zy:810, lx:1248.5, dx:910.7, ix:1039, dy:885, ox:1161});
goLegend(circ[1], {bx:961.7, by:1854.3, bw:129.3, bh:25.7, zx:1027, zy:1828.3, lx:1248.5, dx:905, ix:1036.7, dy:1905, ox:1163.3});
function table(t, ids, descs){
  const H=t.rowH, dX=t.x+t.idW+2.5, dW=t.w-t.idW-2.5;
  [['ID','Description']].concat(ids.map((id,i)=>[id,descs[i]])).forEach((r,i)=>{
    const y=t.y+i*H; const fill=i===0?'#D4D4D4':(i%2===1?'#F0F0F0':'#E4E4E4');
    G.push({type:'rect', shape:{x:t.x, y:y+1.2, width:t.idW, height:H-2.4}, style:{fill}, silent:true});
    G.push({type:'rect', shape:{x:dX, y:y+1.2, width:dW, height:H-2.4}, style:{fill}, silent:true});
    const o={fill:'#111', fontWeight:i===0?'bold':'normal'};
    txt(r[0], i===0? t.x+t.idW/2 : t.x+7, y+H/2, t.font, Object.assign({align:i===0?'center':'left'}, o), NARROW_SX);
    txt(r[1], dX+dW/2, y+H/2, t.font, Object.assign({align:'center'}, o), NARROW_SX);
  });
}
table({x:1441, y:352.4, w:751, idW:115, rowH:28.7, font:21}, goC, descC);
table({x:1458, y:1355.7, w:665, idW:118, rowH:29.76, font:21.5}, goD, descD);
txt('p.adjust', 3206, 428, 26, {}, NARROW_SX);
txt('p.adjust', 3208, 1412, 26, {}, NARROW_SX);

// ---------------- CHART ----------------
const chart = echarts.init(document.getElementById('c'), null, {renderer:'svg', width:3286, height:1923});
chart.setOption({
  animation:false, backgroundColor:'#fff',
  grid:[
    {left:74, top:195, width:703, height:649},
    {left:68, top:1184, width:713, height:654},
    {left:2566.5, top:159+padE, width:605, height:86.46*8},
    {left:2570, top:1143+padF, width:606, height:86.95*8},
    {left:3206, top:447, width:33, height:164},
    {left:3210, top:1433, width:32, height:164}],
  xAxis:[vA[0], vB[0], bE[0], bF[0], cE[0], cF[0]],
  yAxis:[vA[1], vB[1], bE[1], bF[1], cE[1], cF[1]],
  polar:[{center:[1154,452], radius:240},{center:[1150,1457], radius:240}],
  angleAxis:[0,1].map(i=>({polarIndex:i, type:'value', min:0, max:360, startAngle:90, clockwise:true, show:false, axisLine:{show:false}, axisTick:{show:false}, axisLabel:{show:false}, splitLine:{show:false}})),
  radiusAxis:[0,1].map(i=>({polarIndex:i, type:'value', min:0, max:240, show:false, axisLine:{show:false}, axisTick:{show:false}, axisLabel:{show:false}, splitLine:{show:false}})),
  series:series,
  graphic:{elements:G}
});
</script></body></html>
